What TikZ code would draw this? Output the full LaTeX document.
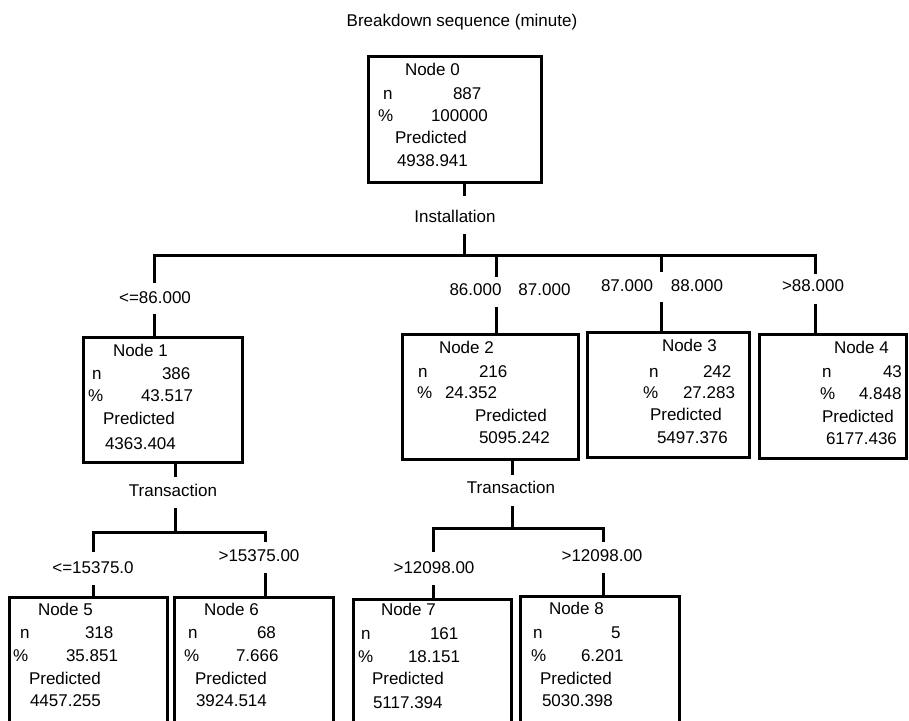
\documentclass[tikz,border=0pt]{standalone}
\usepackage{fontspec}
\setmainfont{Liberation Sans}
\tikzset{
  every node/.style={font=\fontsize{17}{20}\selectfont},
  box/.style={draw, line width=3pt, anchor=north west, inner sep=0pt, outer sep=0pt},
  cell/.style={anchor=base west, inner sep=0pt, outer sep=0pt},
  cut/.style 2 args={anchor=base, inner xsep=0pt, inner ysep=0pt, outer sep=0pt, text height=#1pt, text depth=#2pt},
  wire/.style={line width=3pt},
}
\begin{document}
\begin{tikzpicture}[x=1pt, y=-1pt]
\useasboundingbox (0,0) rectangle (909,720);
\clip (0,0) rectangle (909,720);

\node[anchor=base, inner sep=0pt] (title) at (462,27) {Breakdown sequence (minute)};

% boxes
\node[box, minimum width=173pt, minimum height=126pt] (n0) at (368,56) {};
\node[box, minimum width=159pt, minimum height=125pt] (n1) at (83,337) {};
\node[box, minimum width=176pt, minimum height=125pt] (n2) at (402,334) {};
\node[box, minimum width=162pt, minimum height=125pt] (n3) at (587,332) {};
\node[box, minimum width=147pt, minimum height=124pt] (n4) at (759,334) {};
\node[box, minimum width=158pt, minimum height=150pt] (n5) at (9,597) {};
\node[box, minimum width=159pt, minimum height=150pt] (n6) at (174,597) {};
\node[box, minimum width=158pt, minimum height=150pt] (n7) at (353,599) {};
\node[box, minimum width=159pt, minimum height=150pt] (n8) at (520,596) {};

% node 0 texts
\node[cell] (a1) at (405,75) {Node 0};
\node[cell] (a2) at (383,99) {n};
\node[cell] (a3) at (453,99) {887};
\node[cell] (a4) at (378,121) {\%};
\node[cell] (a5) at (431,121) {100000};
\node[cell] (a6) at (395,143) {Predicted};
\node[cell] (a7) at (397,166) {4938.941};

% node 1 texts
\node[cell] (b1t) at (113,356) {Node 1};
\node[cell] (b2t) at (92,379) {n};
\node[cell] (b3t) at (162,379) {386};
\node[cell] (b4t) at (88,401) {\%};
\node[cell] (b5t) at (141,401) {43.517};
\node[cell] (b6t) at (103,424) {Predicted};
\node[cell] (b7t) at (105,449) {4363.404};

% node 2 texts
\node[cell] (c1t) at (439,353) {Node 2};
\node[cell] (c2t) at (418,377) {n};
\node[cell] (c3t) at (479,377) {216};
\node[cell] (c4t) at (417,398) {\%};
\node[cell] (c5t) at (445,398) {24.352};
\node[cell] (c6t) at (475,421) {Predicted};
\node[cell] (c7t) at (479,443) {5095.242};

% node 3 texts
\node[cell] (d1t) at (662,351) {Node 3};
\node[cell] (d2t) at (649,377) {n};
\node[cell] (d3t) at (703,377) {242};
\node[cell] (d4t) at (643,398) {\%};
\node[cell] (d5t) at (683,398) {27.283};
\node[cell] (d6t) at (650,420) {Predicted};
\node[cell] (d7t) at (657,443) {5497.376};

% node 4 texts
\node[cell] (e1t) at (834,353) {Node 4};
\node[cell] (e2t) at (822,377) {n};
\node[cell] (e3t) at (883,377) {43};
\node[cell] (e4t) at (820,399) {\%};
\node[cell] (e5t) at (859,399) {4.848};
\node[cell] (e6t) at (822,422) {Predicted};
\node[cell] (e7t) at (826,444) {6177.436};

% node 5 texts
\node[cell] (f1t) at (38,615) {Node 5};
\node[cell] (f2t) at (20,638) {n};
\node[cell] (f3t) at (85,638) {318};
\node[cell] (f4t) at (13,661) {\%};
\node[cell] (f5t) at (66,661) {35.851};
\node[cell] (f6t) at (29,684) {Predicted};
\node[cell] (f7t) at (30,706) {4457.255};

% node 6 texts
\node[cell] (g1t) at (204,615) {Node 6};
\node[cell] (g2t) at (188,638) {n};
\node[cell] (g3t) at (257,638) {68};
\node[cell] (g4t) at (184,661) {\%};
\node[cell] (g5t) at (236,661) {7.666};
\node[cell] (g6t) at (195,684) {Predicted};
\node[cell] (g7t) at (196,706) {3924.514};

% node 7 texts
\node[cell] (h1t) at (381,615) {Node 7};
\node[cell] (h2t) at (361,639) {n};
\node[cell] (h3t) at (430,639) {161};
\node[cell] (h4t) at (358,662) {\%};
\node[cell] (h5t) at (408,662) {18.151};
\node[cell] (h6t) at (372,684) {Predicted};
\node[cell] (h7t) at (373,708) {5117.394};

% node 8 texts
\node[cell] (i1t) at (549,614) {Node 8};
\node[cell] (i2t) at (533,638) {n};
\node[cell] (i3t) at (611,638) {5};
\node[cell] (i4t) at (531,661) {\%};
\node[cell] (i5t) at (581,661) {6.201};
\node[cell] (i6t) at (540,684) {Predicted};
\node[cell] (i7t) at (542,706) {5030.398};

% split labels
\node[cut={26}{12}] (inst) at (455,222) {Installation};
\node[cut={20}{11}] (l1) at (155,303) {<=86.000};
\node[cut={18}{12}] (l2) at (510,295) {86.000\hspace{17pt}87.000};
\node[cut={19}{11}] (l3) at (662,291) {87.000\hspace{18pt}88.000};
\node[cut={17}{13}] (l4) at (813,291) {>88.000};
\node[cut={19}{12}] (t1) at (173,496) {Transaction};
\node[cut={21}{12}] (l5) at (93,573) {<=15375.0};
\node[cut={19}{12}] (l6) at (259,561) {>15375.00};
\node[cut={18}{13}] (t2) at (511,493) {Transaction};
\node[cut={21}{12}] (l7) at (434,573) {>12098.00};
\node[cut={19}{12}] (l8) at (602,561) {>12098.00};

% junction coordinates
\coordinate (j0) at (464,255);
\coordinate (j1) at (154,255);
\coordinate (j2) at (496,255);
\coordinate (j3) at (661,255);
\coordinate (j4) at (815,255);
\coordinate (k1) at (175,532);
\coordinate (k5) at (93,532);
\coordinate (k6) at (265,532);
\coordinate (m2) at (512,528);
\coordinate (m7) at (433,528);
\coordinate (m8) at (603,528);

% connectors: first split
\draw[wire] (n0.south -| j0) -- (inst.north -| j0);
\draw[wire] (inst.south -| j0) -- (j0);
\draw[wire] (l1.north -| j1) -- (j1) -- (j4) -- (l4.north -| j4);
\draw[wire] (j2) -- (l2.north -| j2);
\draw[wire] (j3) -- (l3.north -| j3);
\draw[wire] (l1.south -| j1) -- (n1.north -| j1);
\draw[wire] (l2.south -| j2) -- (n2.north -| j2);
\draw[wire] (l3.south -| j3) -- (n3.north -| j3);
\draw[wire] (l4.south -| j4) -- (n4.north -| j4);

% node 1 split
\draw[wire] (n1.south -| k1) -- (t1.north -| k1);
\draw[wire] (t1.south -| k1) -- (k1);
\draw[wire] (l5.north -| k5) -- (k5) -- (k6) -- (l6.north -| k6);
\draw[wire] (l5.south -| k5) -- (n5.north -| k5);
\draw[wire] (l6.south -| k6) -- (n6.north -| k6);

% node 2 split
\draw[wire] (n2.south -| m2) -- (t2.north -| m2);
\draw[wire] (t2.south -| m2) -- (m2);
\draw[wire] (l7.north -| m7) -- (m7) -- (m8) -- (l8.north -| m8);
\draw[wire] (l7.south -| m7) -- (n7.north -| m7);
\draw[wire] (l8.south -| m8) -- (n8.north -| m8);
\end{tikzpicture}
\end{document}
